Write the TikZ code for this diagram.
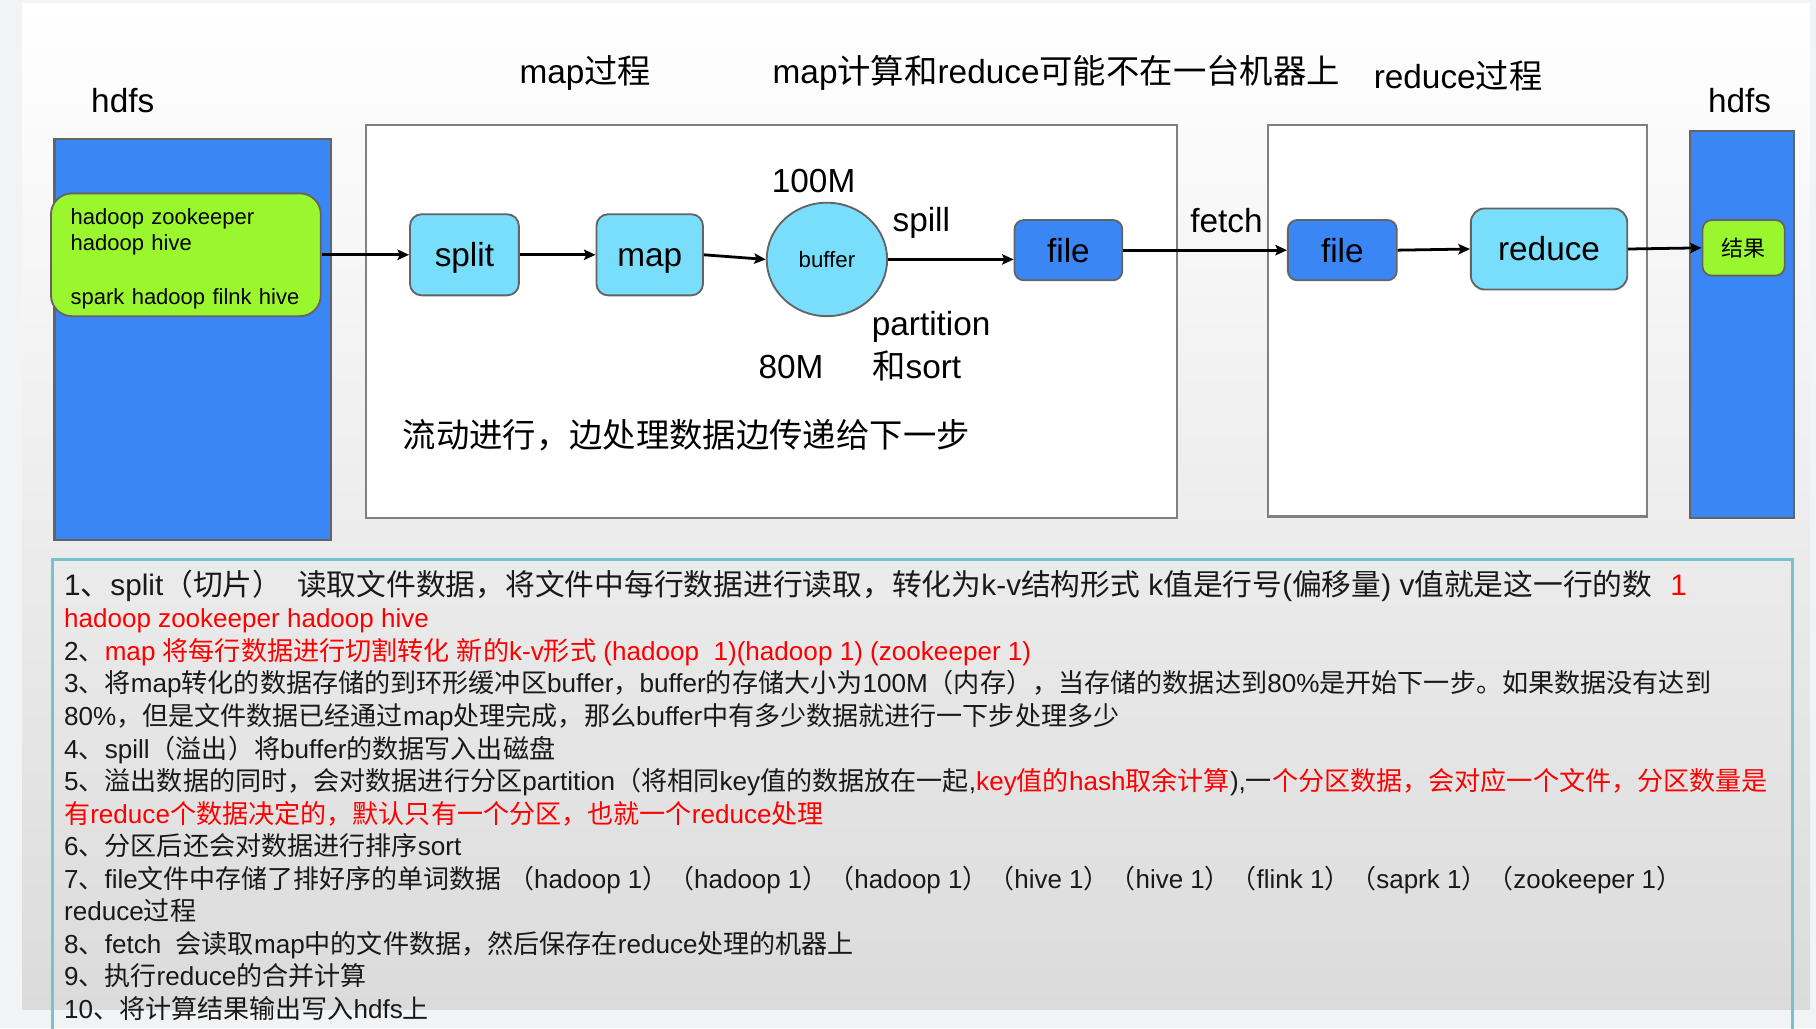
\documentclass[tikz,border=0pt]{standalone}
\usepackage{fontspec}
\usepackage{graphicx}
\setmainfont{Liberation Sans}
\newfontfamily\cjkfont{Noto Sans CJK SC}
\newfontfamily\latfont{Liberation Sans}
\usetikzlibrary{arrows.meta,shapes.geometric}
\chardef\CJKcls=201
\newcount\cjkcnt
\cjkcnt="3000
\loop\ifnum\cjkcnt<"3040 \XeTeXcharclass\cjkcnt=\CJKcls\relax\advance\cjkcnt by 1 \repeat
\cjkcnt="4E00
\loop\ifnum\cjkcnt<"A000 \XeTeXcharclass\cjkcnt=\CJKcls\relax\advance\cjkcnt by 1 \repeat
\cjkcnt="FF00
\loop\ifnum\cjkcnt<"FFF0 \XeTeXcharclass\cjkcnt=\CJKcls\relax\advance\cjkcnt by 1 \repeat
\XeTeXinterchartoks 0 \CJKcls = {\cjkfont}
\XeTeXinterchartoks 4095 \CJKcls = {\cjkfont}
\XeTeXinterchartoks \CJKcls 0 = {\latfont}
\XeTeXinterchartoks \CJKcls 4095 = {\latfont}
\definecolor{hblue}{RGB}{59,134,245}
\definecolor{lcyan}{RGB}{121,221,252}
\definecolor{lgreen}{RGB}{154,247,46}
\definecolor{boxgray}{RGB}{100,100,100}
\definecolor{framegray}{RGB}{128,128,128}
\definecolor{tealframe}{RGB}{117,195,205}
\definecolor{outerbg}{RGB}{242,243,245}
\definecolor{panelbot}{RGB}{219,219,219}
\definecolor{txt}{RGB}{25,25,25}
\definecolor{redtxt}{RGB}{255,0,0}
\newcommand{\fitto}[2]{\resizebox{#1}{\height}{#2}}
\tikzset{
  lbl/.style={inner sep=0pt, anchor=base, font=\fontsize{14.4}{17}\selectfont},
  procbox/.style={draw=framegray, line width=1pt, fill=white, inner sep=0pt},
  hdfsbox/.style={draw=boxgray, line width=1pt, fill=hblue, inner sep=0pt},
  cyanbox/.style={draw=boxgray, line width=0.8pt, fill=lcyan, rounded corners=5pt, inner sep=0pt, font=\fontsize{14.4}{17}\selectfont},
  lowtext/.style={text height=12pt, text depth=1.5pt},
  bluebtn/.style={draw=boxgray, line width=0.8pt, fill=hblue, rounded corners=4pt, inner sep=0pt, font=\fontsize{14.4}{17}\selectfont},
  greenbox/.style={draw=boxgray, line width=0.8pt, fill=lgreen, rounded corners=9pt},
  flow/.style={line width=1.2pt, -{Stealth[length=5pt,width=4.5pt,inset=1pt]}},
  body/.style={inner sep=0pt, anchor=base west, text=txt, font=\fontsize{11.25}{14}\selectfont},
}
\begin{document}
\XeTeXinterchartokenstate=1
\begin{tikzpicture}[x=0.5pt,y=-0.5pt]
\useasboundingbox (0,0) rectangle (1568,888);
\fill[outerbg] (0,0) rectangle (1568,888);
\shade[top color=white, bottom color=panelbot] (19,3) rectangle (1563,872);

% left hdfs
\node[hdfsbox, minimum width=119.5pt, minimum height=173pt] (hdfsL) at (166.5,293) {};
\node[greenbox, minimum width=116.5pt, minimum height=53pt, inner xsep=8.5pt, inner ysep=0pt,
      text width=99.5pt, align=left, font=\fontsize{9.5}{11.5}\selectfont] (src) at (160.5,220)
      {\rule{0pt}{10pt}hadoop zookeeper\\hadoop hive\\[11.5pt]spark hadoop filnk hive};

% map process
\node[procbox, minimum width=350pt, minimum height=169.5pt] (mapP) at (666,277.5) {};
\node[cyanbox, lowtext, minimum width=47pt, minimum height=35pt] (split) at (401,220) {split};
\node[cyanbox, lowtext, minimum width=46pt, minimum height=35pt] (map) at (561,220) {map};
\node[ellipse, draw=boxgray, line width=0.8pt, fill=lcyan, minimum width=52pt, minimum height=49pt,
      inner sep=0pt, font=\fontsize{9.6}{11}\selectfont] (buf) at (714,224) {buffer};
\node[bluebtn, minimum width=46.5pt, minimum height=26pt] (file1) at (922.5,216) {file};

% reduce process
\node[procbox, minimum width=163.5pt, minimum height=169pt] (redP) at (1258.5,277) {};
\node[bluebtn, minimum width=47pt, minimum height=26pt] (file2) at (1159,216) {file};
\node[cyanbox, rounded corners=6pt, minimum width=67.5pt, minimum height=35pt] (red) at (1337.5,215) {reduce};

% right hdfs
\node[hdfsbox, minimum width=45pt, minimum height=167pt] (hdfsR) at (1504,280) {};
\node[greenbox, rounded corners=4pt, minimum width=35.5pt, minimum height=24pt, inner sep=0pt,
      font=\fontsize{9.5}{11}\selectfont] (res) at (1505.5,214) {结果};

% connectors
\draw[flow] (src.east) -- (split.west);
\draw[flow] (split.east) -- (map.west);
\draw[flow] (map.east) -- (buf.west);
\draw[flow] (buf.east) -- (buf.east -| file1.west);
\draw[flow] (file1.east) -- (file2.west);
\draw[flow] (file2.east) -- (red.west);
\draw[flow] (red.east) -- (res.west);

% labels
\node[lbl] (hdfsLt) at (106,97) {hdfs};
\node[lbl] (mapT) at (505.5,72.5) {map过程};
\node[lbl] (noteT) at (912,72.5) {map计算和reduce可能不在一台机器上};
\node[lbl] (redT) at (1259,76.5) {reduce过程};
\node[lbl] (hdfsRt) at (1502,97) {hdfs};
\node[lbl] (m100) at (702.5,166) {100M};
\node[lbl] (spillT) at (795.5,200) {spill};
\node[lbl] (partT) at (804,290) {partition};
\node[lbl] (m80) at (683,327) {80M};
\node[lbl] (sortT) at (791.5,327) {和sort};
\node[lbl] (fetchT) at (1059,201) {fetch};
\node[lbl] (flowT) at (592.5,386) {流动进行，边处理数据边传递给下一步};

% notes frame
\draw[tealframe, line width=1.3pt] (45,892) -- (45,483) -- (1548,483) -- (1548,892);

% notes
\node[body, font=\fontsize{12.8}{15}\selectfont] (l1) at (55,514.5) {\fitto{700.5pt}{1、split（切片）\hspace{0.5em}读取文件数据，将文件中每行数据进行读取，转化为k-v结构形式 k值是行号(偏移量) v值就是这一行的数\hspace{0.6em}\textcolor{redtxt}{1}}};
\node[body] (l2) at (55,542.1) {\fitto{157.5pt}{\textcolor{redtxt}{hadoop zookeeper hadoop hive}}};
\node[body] (l3) at (55,570.2) {\fitto{417.5pt}{2、\textcolor{redtxt}{map 将每行数据进行切割转化 新的k-v形式 (hadoop\ \ 1)(hadoop 1) (zookeeper 1)}}};
\node[body] (l4) at (55,598.3) {\fitto{711pt}{3、将map转化的数据存储的到环形缓冲区buffer，buffer的存储大小为100M（内存），当存储的数据达到80\%是开始下一步。如果数据没有达到}};
\node[body] (l5) at (55,626.4) {\fitto{455.5pt}{80\%，但是文件数据已经通过map处理完成，那么buffer中有多少数据就进行一下步处理多少}};
\node[body] (l6) at (55,654.5) {\fitto{212pt}{4、spill（溢出）将buffer的数据写入出磁盘}};
\node[body] (l7) at (55,682.6) {\fitto{735.5pt}{5、溢出数据的同时，会对数据进行分区partition（将相同key值的数据放在一起,\textcolor{redtxt}{key值的hash取余计算}),一\textcolor{redtxt}{个分区数据，会对应一个文件，分区数量是}}};
\node[body] (l8) at (55,710.7) {\fitto{328pt}{\textcolor{redtxt}{有reduce个数据决定的，默认只有一个分区，也就一个reduce处理}}};
\node[body] (l9) at (55,738.8) {\fitto{171.5pt}{6、分区后还会对数据进行排序sort}};
\node[body] (l10) at (55,766.9) {\fitto{698.5pt}{7、file文件中存储了排好序的单词数据 （hadoop 1）（hadoop 1）（hadoop 1）（hive 1）（hive 1）（flink 1）（saprk 1）（zookeeper 1）}};
\node[body] (l11) at (55,795) {\fitto{57pt}{reduce过程}};
\node[body] (l12) at (55,823.1) {\fitto{341pt}{8、fetch\ \ 会读取map中的文件数据，然后保存在reduce处理的机器上}};
\node[body] (l13) at (55,851.2) {\fitto{130.5pt}{9、执行reduce的合并计算}};
\node[body] (l14) at (55,879.3) {\fitto{157.5pt}{10、将计算结果输出写入hdfs上}};
\end{tikzpicture}
\end{document}
